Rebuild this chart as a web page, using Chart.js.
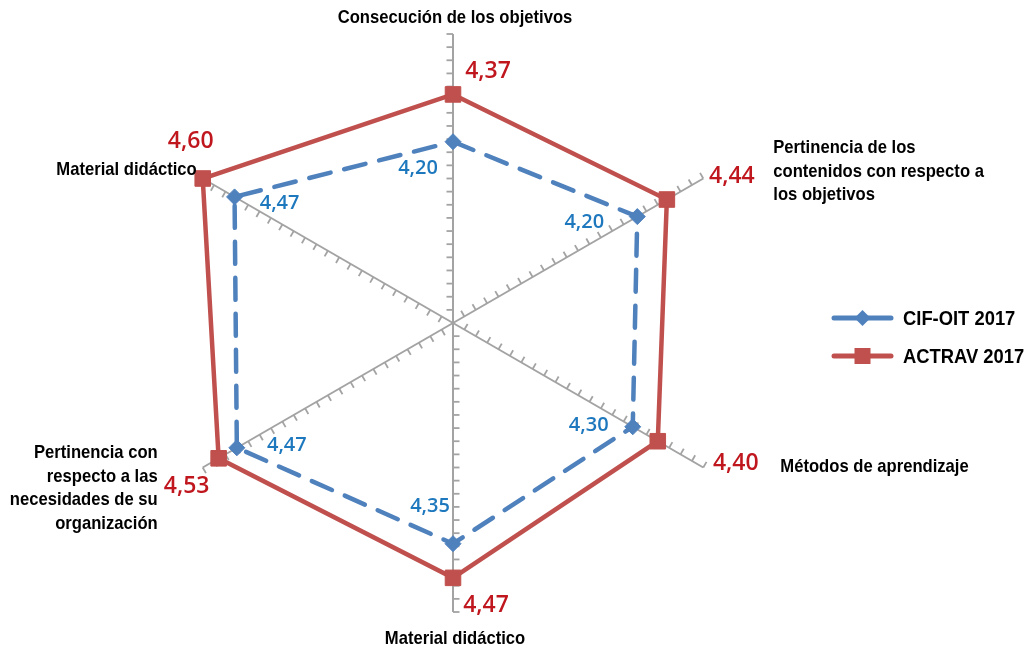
<!DOCTYPE html>
<html>
<head>
<meta charset="utf-8">
<script src="https://cdn.jsdelivr.net/npm/chart.js@4.4.0/dist/chart.umd.min.js"></script>
<style>
  html, body { margin: 0; padding: 0; background: #fff; }
  #chart { display: block; }
</style>
</head>
<body>
<canvas id="chart" width="1032" height="652"></canvas>
<script>
// axis names, clockwise from the top (one entry per line)
const categories = [
    ['Consecución de los objetivos'],
    ['Pertinencia de los', 'contenidos con respecto a', 'los objetivos'],
    ['Métodos de aprendizaje'],
    ['Material didáctico'],
    ['Pertinencia con', 'respecto a las', 'necesidades de su', 'organización'],
    ['Material didáctico']
];
const seriesNames = ['CIF-OIT 2017', 'ACTRAV 2017'];

// values as plotted
const cifValues = [4.19, 4.31, 4.29, 4.34, 4.45, 4.46];
const actravValues = [4.37, 4.44, 4.40, 4.47, 4.53, 4.60];

// value labels as printed next to the points
const cifLabels = ['4,20', '4,20', '4,30', '4,35', '4,47', '4,47'];
const actravLabels = ['4,37', '4,44', '4,40', '4,47', '4,53', '4,60'];

// value axis
const axisMin = 3.5;
const axisMax = 4.6;
const tickStep = 0.05;

const blue = '#4F81BD';
const red = '#C0504D';
const blueText = '#1E78BE';
const redText = '#C0161E';
const gridGray = '#A3A3A3';
const labelFont = "bold 19px 'Liberation Sans', Arial, sans-serif";
const narrow = 0.875;   // squeeze to look like a condensed face

// where each axis name sits, relative to the end of its axis
const nameOffsets = [
    { dx: 2, dy: -16, align: 'center' },
    { dx: 70, dy: -7, align: 'left' },
    { dx: 77, dy: -1, align: 'left' },
    { dx: 2, dy: 27, align: 'center' },
    { dx: -45, dy: 21, align: 'right' },
    { dx: -6, dy: -9, align: 'right' }
];
// value label offsets relative to their points
const actravOffsets = [[35, -23], [65, -23], [78, 22], [33, 28], [-32, 28], [-12, -37]];
const cifOffsets = [[-35, 27], [-53, 6], [-44, -1], [-23, -37], [50, -2], [45, 6]];

// draw text squeezed horizontally around its anchor
function narrowText(ctx, text, x, y) {
    ctx.save();
    ctx.translate(x, y);
    ctx.scale(narrow, 1);
    ctx.fillText(text, 0, 0);
    ctx.restore();
}

function drawDiamond(ctx, x, y, r) {
    ctx.beginPath();
    ctx.moveTo(x, y - r);
    ctx.lineTo(x + r, y);
    ctx.lineTo(x, y + r);
    ctx.lineTo(x - r, y);
    ctx.closePath();
    ctx.fill();
}

const radarDecor = {
    id: 'radarDecor',
    beforeDatasetsDraw(chart) {
        const ctx = chart.ctx;
        const scale = chart.scales.r;
        const n = categories.length;
        const steps = Math.round((axisMax - axisMin) / tickStep);

        // minor tick marks along every axis
        ctx.save();
        ctx.strokeStyle = gridGray;
        ctx.lineWidth = 1.8;
        for (let i = 0; i < n; i++) {
            for (let k = 1; k <= steps; k++) {
                const v = axisMin + k * tickStep;
                const p = scale.getPointPosition(i, scale.getDistanceFromCenterForValue(v));
                const tx = Math.sin(p.angle);
                const ty = -Math.cos(p.angle);
                ctx.beginPath();
                ctx.moveTo(p.x, p.y);
                ctx.lineTo(p.x + tx * 6.5, p.y + ty * 6.5);
                ctx.stroke();
            }
        }
        ctx.restore();
    },
    afterDraw(chart) {
        const ctx = chart.ctx;
        const scale = chart.scales.r;
        const outer = scale.getDistanceFromCenterForValue(axisMax);

        ctx.save();
        // axis names
        ctx.fillStyle = '#000';
        ctx.font = labelFont;
        ctx.textBaseline = 'middle';
        categories.forEach((lines, i) => {
            const end = scale.getPointPosition(i, outer);
            const o = nameOffsets[i];
            const lh = 23.5;
            const y0 = end.y + o.dy - (lines.length - 1) * lh / 2;
            ctx.textAlign = o.align;
            lines.forEach((t, j) => narrowText(ctx, t, end.x + o.dx, y0 + j * lh));
        });

        // value labels
        ctx.textAlign = 'center';
        ctx.font = "600 23px 'Open Sans', sans-serif";
        ctx.fillStyle = redText;
        actravValues.forEach((v, i) => {
            const p = scale.getPointPosition(i, scale.getDistanceFromCenterForValue(v));
            ctx.fillText(actravLabels[i], p.x + actravOffsets[i][0], p.y + actravOffsets[i][1]);
        });
        ctx.font = "600 20px 'Open Sans', sans-serif";
        ctx.fillStyle = blueText;
        cifValues.forEach((v, i) => {
            const p = scale.getPointPosition(i, scale.getDistanceFromCenterForValue(v));
            ctx.fillText(cifLabels[i], p.x + cifOffsets[i][0], p.y + cifOffsets[i][1]);
        });

        // legend
        const lx = 834, lw = 57, tx = 903;
        const rows = [{ y: 318, color: blue }, { y: 356, color: red }];
        ctx.lineCap = 'round';
        ctx.lineWidth = 5;
        rows.forEach((r, i) => {
            ctx.strokeStyle = r.color;
            ctx.fillStyle = r.color;
            ctx.beginPath();
            ctx.moveTo(lx, r.y);
            ctx.lineTo(lx + lw, r.y);
            ctx.stroke();
            if (i === 0) {
                drawDiamond(ctx, lx + lw / 2, r.y, 8);
            } else {
                ctx.fillRect(lx + lw / 2 - 8, r.y - 8, 16, 16);
            }
            ctx.fillStyle = '#000';
            ctx.textAlign = 'left';
            ctx.font = "bold 21px 'Liberation Sans', Arial, sans-serif";
            narrowText(ctx, seriesNames[i], tx, r.y + 1);
        });
        ctx.restore();
    }
};

const ctx = document.getElementById('chart').getContext('2d');
const chart = new Chart(ctx, {
    type: 'radar',
    data: {
        labels: categories,
        datasets: [
            {
                label: seriesNames[0],
                data: cifValues,
                borderColor: blue,
                backgroundColor: blue,
                borderWidth: 4.5,
                borderDash: [22, 14],
                borderCapStyle: 'round',
                fill: false,
                pointStyle: 'rectRot',
                pointRadius: 8,
                pointBackgroundColor: blue,
                pointBorderColor: blue,
                pointBorderWidth: 1
            },
            {
                label: seriesNames[1],
                data: actravValues,
                borderColor: red,
                backgroundColor: red,
                borderWidth: 4.5,
                fill: false,
                pointStyle: 'rect',
                pointRadius: 11,
                pointBackgroundColor: red,
                pointBorderColor: red,
                pointBorderWidth: 1
            }
        ]
    },
    options: {
        responsive: false,
        animation: false,
        layout: { padding: { top: 34, bottom: 40, left: 164, right: 290 } },
        plugins: {
            legend: { display: false },
            tooltip: { enabled: false }
        },
        scales: {
            r: {
                min: axisMin,
                max: axisMax,
                ticks: { display: false, stepSize: 0.1 },
                grid: { display: false },
                angleLines: { color: gridGray, lineWidth: 2 },
                pointLabels: { display: false }
            }
        }
    },
    plugins: [radarDecor]
});
</script>
</body>
</html>
